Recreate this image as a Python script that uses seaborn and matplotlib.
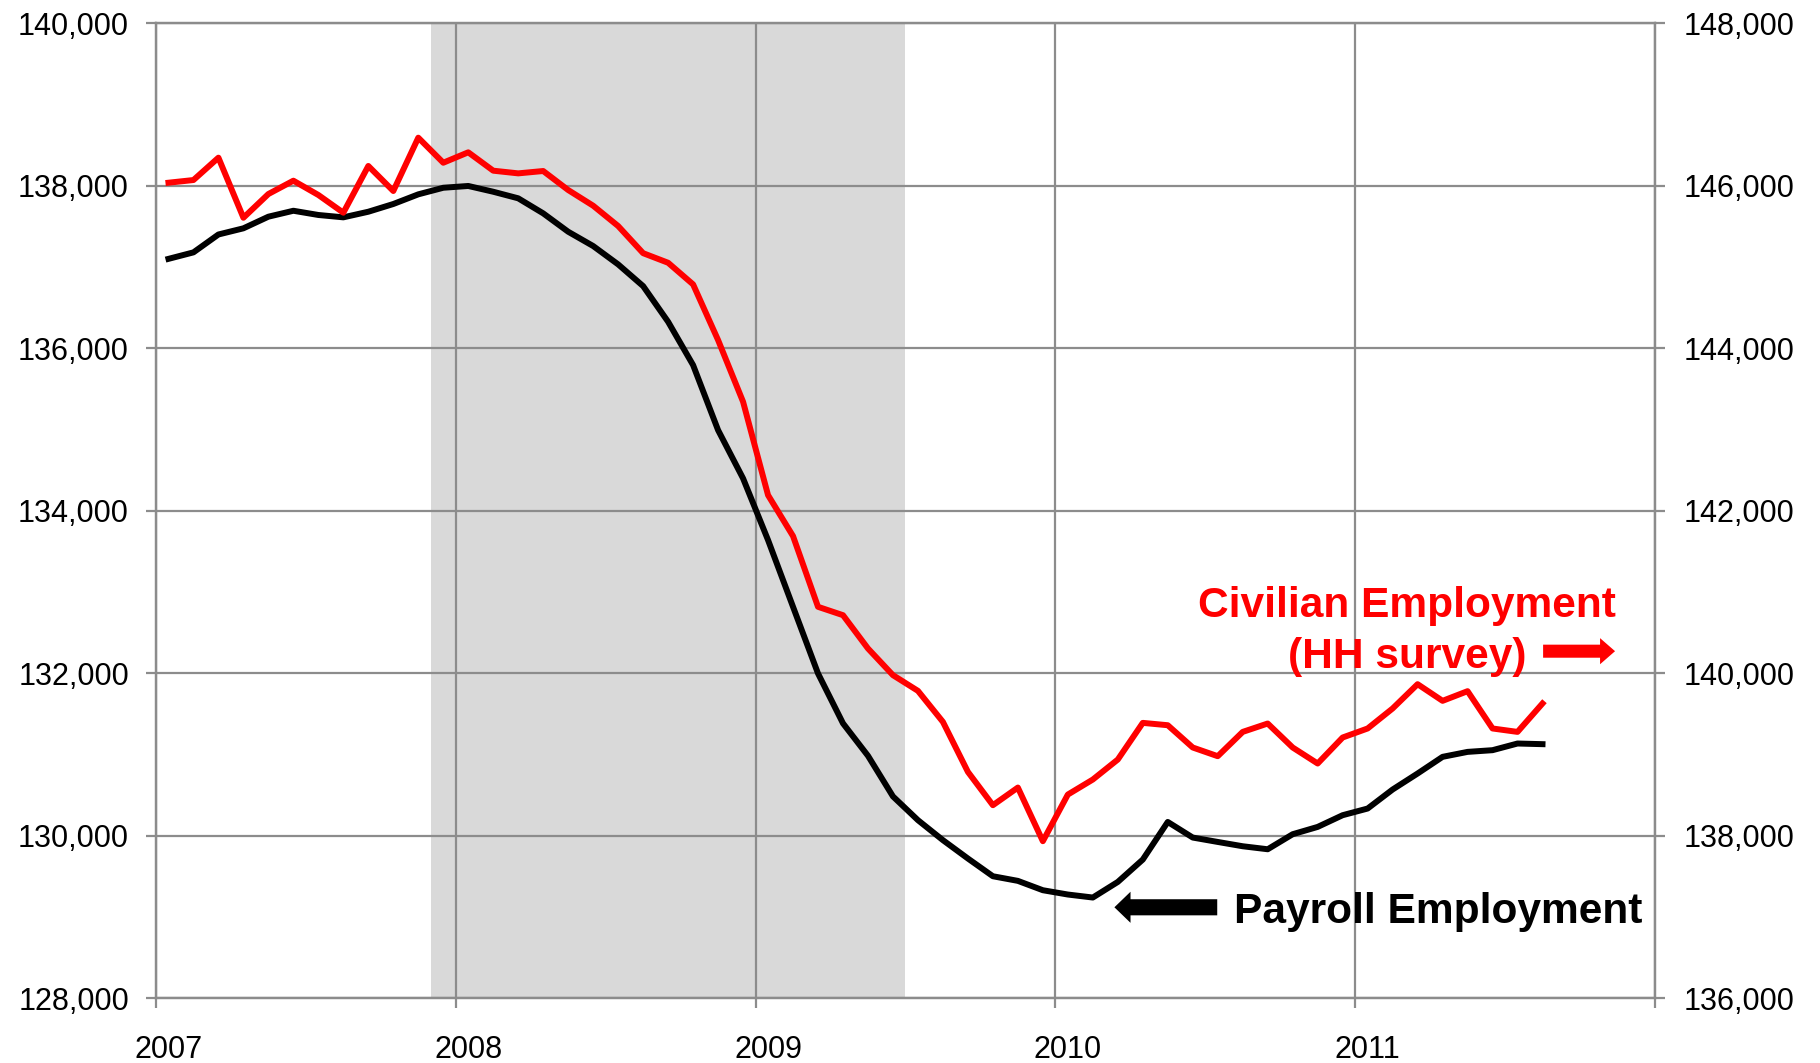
import matplotlib
matplotlib.use("Agg")
import matplotlib.pyplot as plt
from matplotlib.ticker import FuncFormatter, FixedLocator
import numpy as np
import pandas as pd
import seaborn as sns

plt.rcParams['font.family'] = ['Liberation Sans', 'DejaVu Sans']

# ---- data (monthly, Jan 2007 - Aug 2011) ----
months = pd.date_range("2007-01-01", periods=56, freq="MS")

payroll = [
    137100, 137180, 137400, 137476, 137619, 137692, 137640, 137611, 137680, 137775, 137894, 137975,
    137997, 137926, 137845, 137660, 137434, 137258, 137032, 136765, 136326, 135793, 134993, 134399,
    133640, 132819, 131999, 131385, 130986, 130486, 130194, 129948, 129722, 129504, 129447, 129332,
    129279, 129242, 129434, 129709, 130172, 129980, 129926, 129873, 129836, 130021, 130111, 130255,
    130337, 130571, 130768, 130973, 131034, 131055, 131137, 131129,
]

civilian = [
    146037, 146070, 146345, 145606, 145898, 146062, 145886, 145668, 146243, 145935, 146591, 146283,
    146411, 146185, 146152, 146181, 145947, 145754, 145504, 145170, 145052, 144786, 144101, 143342,
    142193, 141689, 140819, 140716, 140306, 139978, 139785, 139403, 138788, 138378, 138595, 137935,
    138509, 138694, 138940, 139391, 139362, 139088, 138981, 139280, 139383, 139088, 138891, 139211,
    139322, 139568, 139867, 139662, 139781, 139322, 139280, 139630,
]

recession_start = 2007 + 11 / 12   # Dec 2007
recession_end = 2009 + 6 / 12      # Jun 2009
year_ticks = [2007, 2008, 2009, 2010, 2011, 2012]
year_labels = ["2007", "2008", "2009", "2010", "2011"]

df = pd.DataFrame({
    "x": months.year + (months.month - 0.5) / 12,
    "payroll": payroll,
    "civilian": civilian,
})

GRID = "#8c8c8c"
RED = "#ff0000"

fig = plt.figure(figsize=(18.2, 10.63), dpi=100)
ax = fig.add_axes([0.0857, 0.0607, 0.8236, 0.9175])
ax2 = ax.twinx()

ax.axvspan(recession_start, recession_end, color="#d9d9d9", lw=0, zorder=0.2)

sns.lineplot(data=df, x="x", y="payroll", ax=ax, color="black", lw=4.3, zorder=3)
sns.lineplot(data=df, x="x", y="civilian", ax=ax2, color=RED, lw=4.3, zorder=3)

ax.set_xlim(2007, 2012)
ax.set_ylim(128000, 140000)
ax2.set_ylim(136000, 148000)
ax.set_yticks(np.arange(128000, 140001, 2000))
ax2.set_yticks(np.arange(136000, 148001, 2000))

fmt = FuncFormatter(lambda v, p: f"{v:,.0f}")
ax.yaxis.set_major_formatter(fmt)
ax2.yaxis.set_major_formatter(fmt)

ax.xaxis.set_major_locator(FixedLocator(year_ticks))
ax.xaxis.set_minor_locator(FixedLocator([int(y) + 1 / 24 for y in year_labels]))
ax.set_xticklabels([""] * len(year_ticks))
ax.set_xticklabels(year_labels, minor=True)

ax.set_axisbelow(True)
ax.grid(True, which="major", color=GRID, lw=1.6)
ax2.grid(False)

for a in (ax, ax2):
    a.set_xlabel("")
    a.set_ylabel("")
    for s in a.spines.values():
        s.set_color(GRID)
        s.set_linewidth(1.6)

ax.tick_params(axis="y", direction="out", length=7, width=1.6, color=GRID,
               pad=12.5, labelsize=22)
ax2.tick_params(axis="y", direction="out", length=7, width=1.6, color=GRID,
                pad=14, labelsize=22)
ax.tick_params(axis="x", which="major", direction="out", length=7, width=1.6,
               color=GRID, labelbottom=False)
ax.tick_params(axis="x", which="minor", length=0, pad=26, labelsize=22)

# annotations
ax.text(2011.173, 132695, "Civilian Employment", ha="center", va="baseline",
        color=RED, fontsize=30.6, fontweight="bold", zorder=5)
ax.text(2011.173, 132060, "(HH survey)", ha="center", va="baseline",
        color=RED, fontsize=30.6, fontweight="bold", zorder=5)
ax.annotate("", xy=(2011.867, 132273), xytext=(2011.627, 132273),
            arrowprops=dict(arrowstyle="simple,head_length=0.54,head_width=0.94,tail_width=0.47",
                            color=RED, mutation_scale=20, shrinkA=0, shrinkB=0, lw=0),
            zorder=5)

ax.text(2010.597, 128925, "Payroll Employment", ha="left", va="baseline",
        color="black", fontsize=30.6, fontweight="bold", zorder=5)
ax.annotate("", xy=(2010.197, 129122), xytext=(2010.54, 129122),
            arrowprops=dict(arrowstyle="simple,head_length=0.58,head_width=1.12,tail_width=0.58",
                            color="black", mutation_scale=20, shrinkA=0, shrinkB=0, lw=0),
            zorder=5)

fig.savefig("out.png", dpi=100)
